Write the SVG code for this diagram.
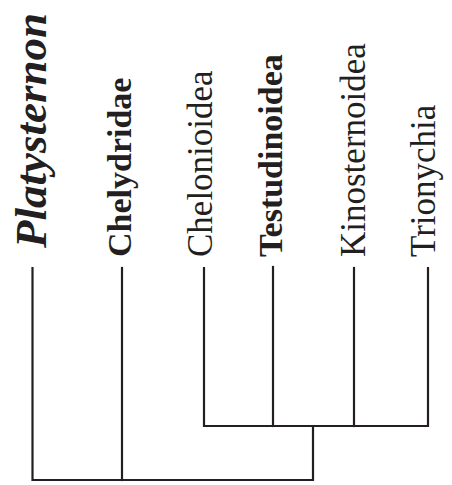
<svg xmlns="http://www.w3.org/2000/svg" width="452" height="485" viewBox="0 0 452 485">
<style>
text{fill:#231f20}
.r{font-size:35px}
.b{font-size:34px;font-weight:bold}
.bi{font-size:45px;font-weight:bold;font-style:italic}
.e{stroke:#231f20;stroke-width:2.2;fill:none;stroke-linecap:square}
</style>
<rect width="452" height="485" fill="#fff"/>
<g font-family="Liberation Serif, Times New Roman, serif">
<g id="n-platysternon"><text class="bi" transform="translate(46,248) rotate(-90)">Platysternon</text></g>
<g id="n-chelydridae"><text class="b" font-size="33.5" transform="translate(131,257) rotate(-90)">Chelydridae</text></g>
<g id="n-chelonioidea"><text class="r" transform="translate(212,257) rotate(-90)">Chelonioidea</text></g>
<g id="n-testudinoidea"><text class="b" transform="translate(282,257) rotate(-90)">Testudinoidea</text></g>
<g id="n-kinosternoidea"><text class="r" transform="translate(365,257) rotate(-90)">Kinosternoidea</text></g>
<g id="n-trionychia"><text class="r" transform="translate(435,257) rotate(-90)">Trionychia</text></g>
</g>
<g id="connectors" class="e">
<path d="M32.5,268V480H313V426"/>
<path d="M122,268V480"/>
<path d="M204,268V426H428V268"/>
<path d="M273,267V426"/>
<path d="M354,268V426"/>
</g>
</svg>
